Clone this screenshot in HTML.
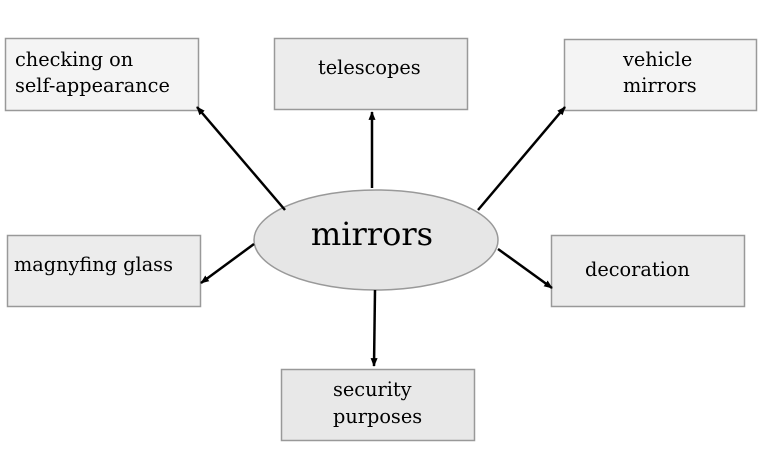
<!DOCTYPE html>
<html><head><meta charset="utf-8"><style>
html,body{margin:0;padding:0;background:#fff;}
svg{display:block;}
text{font-family:"DejaVu Serif","Liberation Serif",serif;fill:#000;}
</style></head><body>
<svg width="772" height="464" viewBox="0 0 772 464" xmlns="http://www.w3.org/2000/svg">
<defs>
<marker id="a" viewBox="0 0 10 10" refX="9" refY="5" markerWidth="3.5" markerHeight="3.5" orient="auto" markerUnits="strokeWidth">
<path d="M0,1 L10,5 L0,9 z" fill="#000"/>
</marker>
</defs>
<g stroke="#999" stroke-width="1.5">
<rect x="5.5" y="38.5" width="193" height="72" fill="#f4f4f4"/>
<rect x="274.5" y="38.5" width="193" height="71" fill="#ececec"/>
<rect x="564.5" y="39.5" width="192" height="71" fill="#f4f4f4"/>
<rect x="7.5" y="235.5" width="193" height="71" fill="#ececec"/>
<rect x="551.5" y="235.5" width="193" height="71" fill="#ececec"/>
<rect x="281.5" y="369.5" width="193" height="71" fill="#e8e8e8"/>
<ellipse cx="376" cy="240" rx="122" ry="50" fill="#e6e6e6"/>
</g>
<g stroke="#000" stroke-width="2.5" marker-end="url(#a)">
<line x1="285" y1="210" x2="197" y2="107"/>
<line x1="372" y1="188" x2="372" y2="112"/>
<line x1="478" y1="210" x2="565" y2="107"/>
<line x1="254" y1="244" x2="201" y2="283"/>
<line x1="498" y1="249" x2="552" y2="288"/>
<line x1="375" y1="290" x2="374" y2="366"/>
</g>
<g font-size="19.3">
<text x="15" y="66">checking on</text>
<text x="15" y="92">self-appearance</text>
<text x="318" y="74">telescopes</text>
<text x="623" y="66">vehicle</text>
<text x="623" y="92">mirrors</text>
<text x="14" y="271">magnyfing glass</text>
<text x="585" y="276">decoration</text>
<text x="333" y="396">security</text>
<text x="333" y="423">purposes</text>
</g>
<text x="372" y="245" font-size="32" text-anchor="middle">mirrors</text>
</svg>
</body></html>
